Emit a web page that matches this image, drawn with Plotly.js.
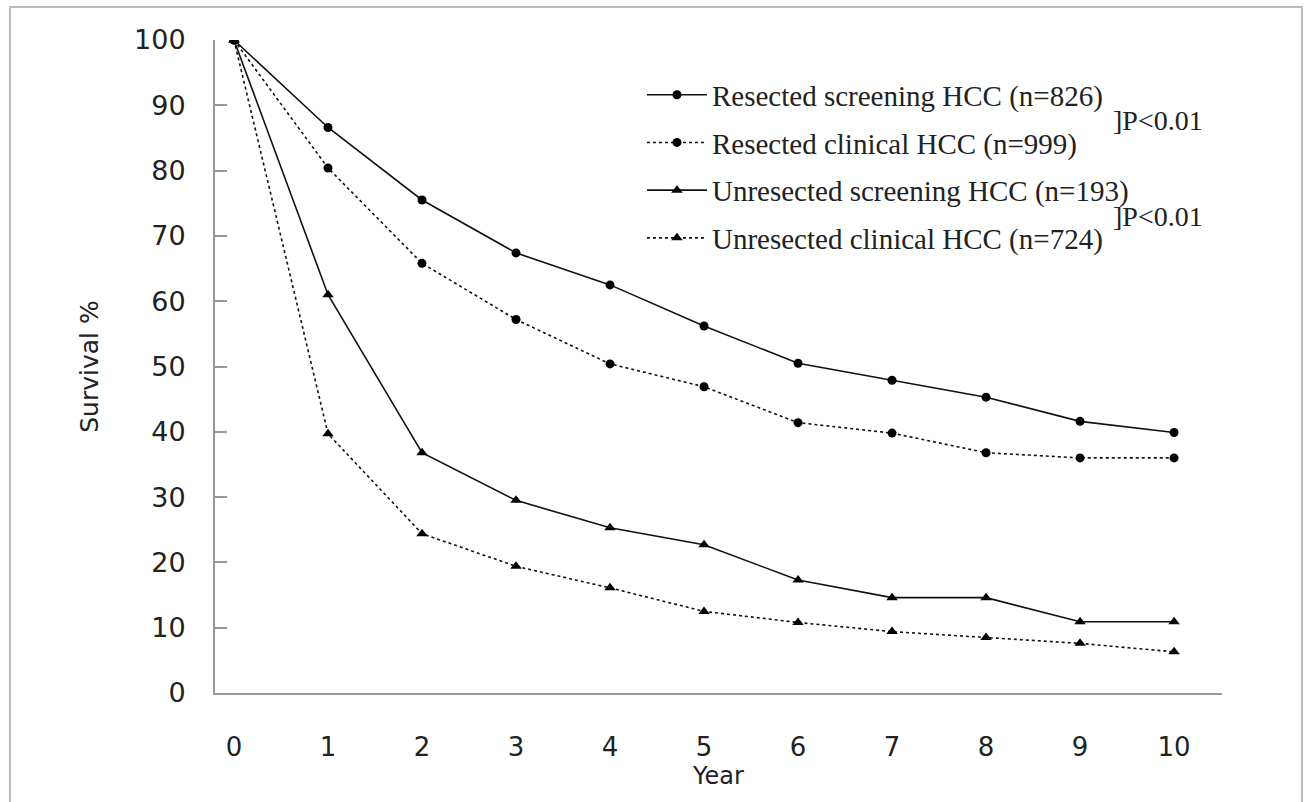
<!DOCTYPE html>
<html>
<head>
<meta charset="utf-8">
<script src="https://cdn.plot.ly/plotly-3.0.1.min.js"></script>
<style>html,body{margin:0;padding:0;background:#fff;}#chart{width:1310px;height:802px;}</style>
</head>
<body>
<div id="chart"></div>
<script>
const years = [0,1,2,3,4,5,6,7,8,9,10];
const resectedScreening = [100,86.6,75.5,67.4,62.5,56.2,50.5,47.9,45.3,41.6,39.9];
const resectedClinical = [100,80.4,65.8,57.2,50.4,46.9,41.4,39.8,36.8,36.0,36.0];
const unresectedScreening = [100,61.0,36.8,29.5,25.3,22.7,17.3,14.6,14.6,10.9,10.9];
const unresectedClinical = [100,39.7,24.4,19.4,16.1,12.5,10.8,9.4,8.5,7.6,6.3];
const seriesNames = [
  "Resected screening HCC (n=826)",
  "Resected clinical HCC (n=999)",
  "Unresected screening HCC (n=193)",
  "Unresected clinical HCC (n=724)"
];
const pLabel = "]P<0.01";
const xTitle = "Year";
const yTitle = "Survival %";

function tr(y, name, dash, symbol, size, grp){
  return {
    x: years, y: y, name: name, type: 'scatter', mode: 'lines+markers',
    legendgroup: grp,
    line: {color: '#111', width: 1.6, dash: dash},
    marker: {color: '#000', symbol: symbol, size: size}
  };
}
const data = [
  tr(resectedScreening, seriesNames[0], 'solid', 'circle', 9, 'a'),
  tr(resectedClinical, seriesNames[1], '3px,3px', 'circle', 9, 'b'),
  tr(unresectedScreening, seriesNames[2], 'solid', 'triangle-up', 10, 'c'),
  tr(unresectedClinical, seriesNames[3], '3px,3px', 'triangle-up', 10, 'd')
];
const sans = 'DejaVu Sans, Arial, sans-serif';
const serif = 'Liberation Serif, Times New Roman, serif';
const layout = {
  width: 1310, height: 802,
  margin: {l: 215, r: 88, t: 40, b: 109},
  paper_bgcolor: '#fff', plot_bgcolor: '#fff',
  showlegend: true,
  legend: {
    x: 0.424, y: 0.955, xanchor: 'left', yanchor: 'top',
    font: {family: serif, size: 29, color: '#222'},
    bgcolor: 'rgba(0,0,0,0)', tracegroupgap: 7, itemwidth: 60,
    traceorder: 'grouped'
  },
  xaxis: {
    range: [-0.202, 10.51], tickvals: years, ticktext: years.map(String),
    ticks: '', showgrid: false, zeroline: false,
    showline: true, linecolor: '#999', linewidth: 2,
    ticklabelstandoff: 30,
    tickfont: {family: sans, size: 26, color: '#222'},
    title: {text: xTitle, font: {family: sans, size: 24, color: '#222'}, standoff: 0}
  },
  yaxis: {
    range: [0, 100], tickvals: [0,10,20,30,40,50,60,70,80,90,100],
    ticks: 'inside', ticklen: 12, tickcolor: '#999', tickwidth: 2,
    showgrid: false, zeroline: false,
    showline: true, linecolor: '#999', linewidth: 2,
    ticklabelstandoff: 22,
    tickfont: {family: sans, size: 27, color: '#222'},
    title: {text: yTitle, font: {family: sans, size: 25, color: '#222'}, standoff: 28}
  },
  annotations: [
    {xref: 'paper', yref: 'paper', x: 0.89, y: 0.877, xanchor: 'left', yanchor: 'middle',
     text: pLabel, showarrow: false, font: {family: serif, size: 28, color: '#222'}},
    {xref: 'paper', yref: 'paper', x: 0.89, y: 0.729, xanchor: 'left', yanchor: 'middle',
     text: pLabel, showarrow: false, font: {family: serif, size: 28, color: '#222'}}
  ],
  shapes: [
    {type: 'rect', xref: 'paper', yref: 'paper', x0: -0.2036, x1: 1.0794, y0: -0.2, y1: 1.0505,
     line: {color: '#bbb', width: 2}, fillcolor: 'rgba(0,0,0,0)'}
  ]
};
Plotly.newPlot('chart', data, layout, {displayModeBar: false, staticPlot: true});
</script>
</body>
</html>
